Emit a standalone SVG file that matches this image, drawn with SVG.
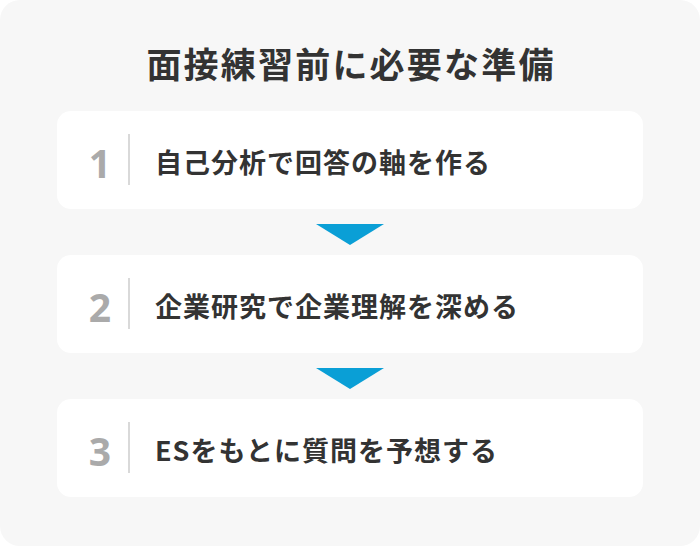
<svg xmlns="http://www.w3.org/2000/svg" width="700" height="546" viewBox="0 0 700 546">
<style>
.card{fill:#ffffff;}
.num{font-family:"Noto Sans","Noto Sans CJK JP",sans-serif;font-weight:700;font-size:39px;fill:#aaaaaa;text-anchor:middle;}
.div{stroke:#cccccc;stroke-width:1.5;}
.lbl{font-family:"Noto Sans CJK JP","Noto Sans",sans-serif;font-weight:700;font-size:27px;letter-spacing:1px;fill:#333333;}
.title{font-family:"Noto Sans CJK JP","Noto Sans",sans-serif;font-weight:700;font-size:35px;letter-spacing:2.2px;fill:#333333;text-anchor:middle;}
.arrow{fill:#0a9fd6;}
</style>
<rect x="0" y="0" width="700" height="546" fill="#ffffff"/>
<rect x="0" y="0" width="700" height="546" rx="20" fill="#f7f7f7"/>
<text class="title" x="351" y="78">面接練習前に必要な準備</text>
<g id="step1">
<rect class="card" x="57" y="111" width="586" height="98" rx="14"/>
<text class="num" x="100" y="178">1</text>
<line class="div" x1="129" y1="134" x2="129" y2="185"/>
<text class="lbl" x="155" y="173">自己分析で回答の軸を作る</text>
</g>
<g id="step2">
<rect class="card" x="57" y="255" width="586" height="98" rx="14"/>
<text class="num" x="100" y="322">2</text>
<line class="div" x1="129" y1="278" x2="129" y2="329"/>
<text class="lbl" x="155" y="317">企業研究で企業理解を深める</text>
</g>
<g id="step3">
<rect class="card" x="57" y="399" width="586" height="98" rx="14"/>
<text class="num" x="100" y="466">3</text>
<line class="div" x1="129" y1="422" x2="129" y2="473"/>
<text class="lbl" x="155" y="461">ESをもとに質問を予想する</text>
</g>
<g id="connectors">
<polygon class="arrow" points="316,224 384,224 350,245"/>
<polygon class="arrow" points="316,368 384,368 350,389"/>
</g>
</svg>
